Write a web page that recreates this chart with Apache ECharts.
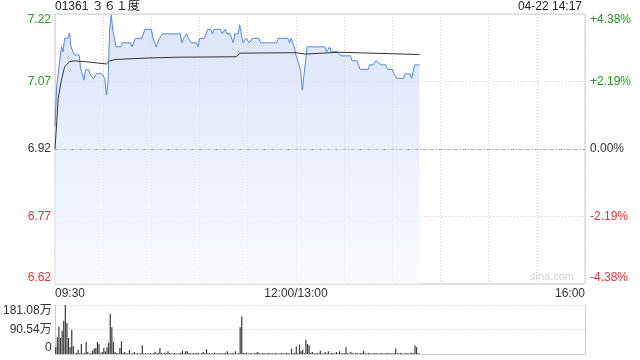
<!DOCTYPE html>
<html><head><meta charset="utf-8">
<script src="https://cdn.jsdelivr.net/npm/echarts@6/dist/echarts.min.js"></script>
<style>html,body{margin:0;padding:0;background:#fff}#c{width:640px;height:360px}</style>
</head><body><div id="c"></div>
<script>
const titleText = '01361 ３６１度';
const dateText = '04-22 14:17';
const watermarkText = 'sina.com';
const prevClose = 6.92;
const priceTickLabels = ['6.62', '6.77', '6.92', '7.07', '7.22'];
const pctTickLabels = ['-4.38%', '-2.19%', '0.00%', '+2.19%', '+4.38%'];
const volTickLabels = ['0', '90.54万', '181.08万'];
const timeTickLabels = { 0: '09:30', 150: '12:00/13:00', 330: '16:00' };

// [minute since 09:30 (lunch removed), price]
const priceData = [
  [0,6.97],[1,7.058],[2,7.088],[4,7.147],[5,7.136],[6,7.166],[8,7.166],[9,7.178],[10,7.147],[12,7.129],
  [15,7.129],[16,7.099],[18,7.073],[19,7.096],[21,7.096],[22,7.084],[24,7.077],[26,7.088],[29,7.088],[31,7.077],
  [32,7.04],[33,7.066],[34,7.184],[35,7.218],[36,7.184],[38,7.147],[41,7.147],[42,7.156],[47,7.156],[48,7.147],
  [50,7.166],[54,7.166],[56,7.186],[60,7.186],[61,7.166],[63,7.147],[65,7.166],[67,7.176],[78,7.176],[79,7.156],
  [80,7.166],[82,7.176],[83,7.166],[85,7.156],[88,7.156],[89,7.147],[90,7.166],[93,7.166],[95,7.186],[97,7.186],
  [98,7.176],[99,7.186],[103,7.186],[104,7.176],[106,7.186],[107,7.176],[109,7.176],[111,7.156],[112,7.176],[114,7.176],
  [115,7.196],[116,7.176],[117,7.156],[119,7.166],[121,7.156],[123,7.166],[127,7.166],[128,7.156],[138,7.156],[139,7.166],
  [145,7.166],[146,7.156],[147,7.166],[149,7.147],[150,7.129],[152,7.107],[153,7.092],[154,7.051],[155,7.084],[156,7.084],
  [157,7.147],[168,7.147],[169,7.136],[171,7.147],[172,7.136],[176,7.136],[178,7.127],[184,7.127],[185,7.116],[188,7.116],
  [190,7.097],[195,7.097],[196,7.107],[198,7.107],[200,7.116],[201,7.116],[203,7.107],[206,7.107],[207,7.097],[210,7.097],
  [211,7.087],[213,7.077],[217,7.077],[218,7.087],[221,7.087],[222,7.077],[224,7.107],[227,7.107]
];
const avgData = [
  [0,6.92],[2,7.033],[4,7.073],[6,7.103],[9,7.114],[12,7.116],[19,7.114],[32,7.109],[34,7.116],[38,7.119],
  [56,7.122],[76,7.124],[113,7.125],[115,7.133],[150,7.134],[156,7.131],[177,7.135],[227,7.130]
];
// volume per minute (万股), minute 0..227
const volumeData = [
  24.6,61.6,102,59,86,123,181.08,114.6,59,24.6,88.7,28.3,2,4,16,3,37,2,4,44,
  7,2,4,12,20,22,44,37,3,7,22,10,25,41,148,99,44,7,4,3,
  22,47,4,7,2,3,15,2,3,7,2,3,2,3,32,2,3,2,3,4,
  2,3,7,3,5,22,4,3,5,3,10,4,3,2,4,3,2,3,5,12,
  3,10,10,4,3,2,4,3,5,3,2,4,7,3,18,3,4,2,3,5,
  3,2,4,3,2,3,5,10,3,2,4,3,10,2,3,99,139,4,3,5,
  2,3,4,2,3,5,7,3,2,4,3,2,3,4,2,3,2,4,3,2,
  3,4,2,3,5,3,2,20,3,5,28,4,35,10,16,4,53,37,32,4,
  7,3,2,4,3,12,3,2,7,3,10,2,4,3,2,7,3,10,2,4,
  3,25,3,2,7,3,2,4,3,2,3,4,12,3,2,4,3,2,3,4,
  2,3,2,4,3,2,3,4,2,3,2,4,20,3,2,4,3,2,3,4,
  2,3,5,3,31,25,3,2
];

const GREEN = '#1ba31b', RED = '#f03030', DARK = '#333';
const FONT = '"Liberation Sans", Arial, "Noto Sans CJK SC", sans-serif';
function priceColor(v) {
  const n = parseFloat(v);
  if (Math.abs(n - prevClose) < 1e-6) return DARK;
  return n > prevClose ? GREEN : RED;
}

const chart = echarts.init(document.getElementById('c'), null, { renderer: 'canvas' });
chart.setOption({
  animation: false,
  backgroundColor: '#fff',
  textStyle: { fontFamily: FONT },
  graphic: [
    { type: 'text', left: 55, top: 1, style: { text: titleText, fill: '#222', font: '12px ' + FONT } },
    { type: 'text', right: 58, top: 1, style: { text: dateText, fill: '#222', font: '12px ' + FONT } },
    { type: 'text', right: 66, top: 271, z: 1, style: { text: watermarkText, fill: '#cfcfcf', font: '11px ' + FONT } }
  ],
  grid: [
    { left: 55, top: 14, width: 530, height: 270, show: true, borderColor: '#ccc', borderWidth: 1, containLabel: false },
    { left: 55, top: 305, width: 530, height: 49, show: false, containLabel: false }
  ],
  xAxis: [
    {
      type: 'value', gridIndex: 0, min: 0, max: 330, interval: 30,
      axisLine: { show: false }, axisTick: { show: false },
      splitLine: { show: true, lineStyle: { color: '#d0d0d0', type: [1, 2], width: 1 } },
      axisLabel: {
        formatter: v => timeTickLabels[v] || '', color: DARK, fontSize: 12, margin: 4,
        alignMinLabel: 'left', alignMaxLabel: 'right', showMinLabel: true, showMaxLabel: true, hideOverlap: false
      }
    },
    {
      type: 'value', gridIndex: 1, min: 0, max: 330, interval: 30,
      axisLine: { show: true, onZero: false, lineStyle: { color: '#ccc' } },
      axisTick: { show: false }, axisLabel: { show: false }, splitLine: { show: false }
    }
  ],
  yAxis: [
    {
      type: 'value', gridIndex: 0, min: 6.62, max: 7.22, interval: 0.15, position: 'left',
      axisLine: { show: false }, axisTick: { show: false },
      splitLine: { show: true, lineStyle: { color: '#d0d0d0', type: [1, 2], width: 1 } },
      axisLabel: {
        formatter: (v, i) => priceTickLabels[i], color: v => priceColor(v), fontSize: 12, margin: 4,
        verticalAlignMinLabel: 'bottom', verticalAlignMaxLabel: 'top'
      }
    },
    {
      type: 'value', gridIndex: 0, min: 6.62, max: 7.22, interval: 0.15, position: 'right',
      axisLine: { show: false }, axisTick: { show: false }, splitLine: { show: false },
      axisLabel: {
        formatter: (v, i) => pctTickLabels[i], color: v => priceColor(v), fontSize: 12, margin: 5,
        verticalAlignMinLabel: 'bottom', verticalAlignMaxLabel: 'top'
      }
    },
    {
      type: 'value', gridIndex: 1, min: 0, max: 181.08, interval: 90.54, position: 'left',
      axisLine: { show: true, onZero: false, lineStyle: { color: '#ccc' } }, axisTick: { show: false },
      splitLine: { show: true, lineStyle: { color: '#ccc', type: [1, 2], width: 1 } },
      axisLabel: {
        formatter: (v, i) => volTickLabels[i], color: DARK, fontSize: 12, margin: 4,
        verticalAlignMinLabel: 'bottom', verticalAlignMaxLabel: 'top'
      }
    },
    {
      type: 'value', gridIndex: 1, min: 0, max: 181.08, interval: 90.54, position: 'right',
      axisLine: { show: true, onZero: false, lineStyle: { color: '#ccc' } }, axisTick: { show: false },
      splitLine: { show: false }, axisLabel: { show: false }
    }
  ],
  series: [
    {
      type: 'line', xAxisIndex: 0, yAxisIndex: 0, data: priceData, showSymbol: false, symbol: 'none',
      lineStyle: { color: '#4f88ee', width: 1 },
      areaStyle: {
        origin: 'start',
        color: new echarts.graphic.LinearGradient(0, 0, 0, 1, [
          { offset: 0, color: '#cbdaf6' },
          { offset: 1, color: '#f7f9fe' }
        ])
      },
      markLine: {
        silent: true, symbol: 'none', label: { show: false },
        lineStyle: { color: '#aaa', type: [3, 2, 1, 2], width: 1 },
        data: [{ yAxis: prevClose }]
      },
      z: 3
    },
    {
      type: 'line', xAxisIndex: 0, yAxisIndex: 0, data: avgData, showSymbol: false, symbol: 'none',
      lineStyle: { color: '#333', width: 1 }, z: 4
    },
    {
      type: 'bar', xAxisIndex: 1, yAxisIndex: 2, data: volumeData.map((v, i) => [i, v]),
      barWidth: 1.2, itemStyle: { color: '#3a3a3a' }
    }
  ]
});
</script></body></html>
